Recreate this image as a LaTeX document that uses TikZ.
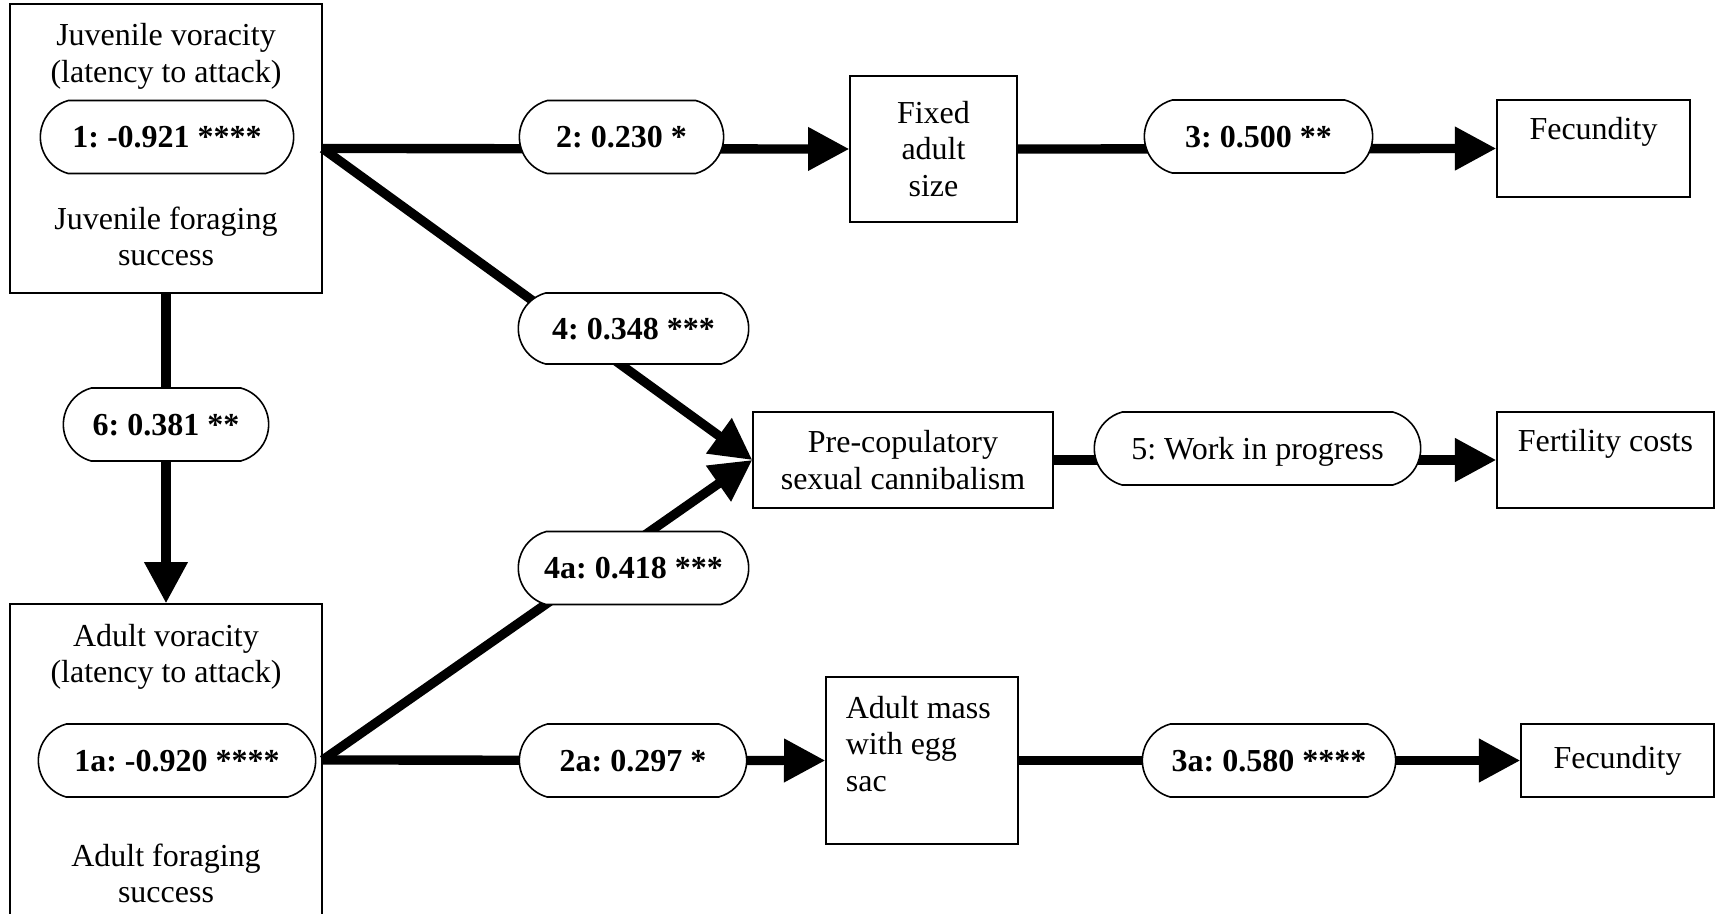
\documentclass[tikz,border=0pt]{standalone}
\usepackage{fontspec}
\setmainfont{Liberation Serif}
\usetikzlibrary{arrows.meta, shapes.misc}
\frenchspacing

\begin{document}
\begin{tikzpicture}[x=0.375pt, y=-0.375pt,
  every node/.style={font=\fontsize{12}{13.8}\selectfont},
  box/.style={draw, line width=0.5pt, align=center, inner sep=0pt},
  txt/.style={inner sep=0pt, anchor=base},
  coef/.style={draw, fill=white, line width=0.6pt, rounded rectangle, rounded rectangle arc length=150,
    minimum height=27.4pt, text height=8.1pt, text depth=0pt, inner xsep=2pt,
    font=\fontsize{12}{13.8}\selectfont\bfseries},
  link/.style={line width=3.5pt, -{Triangle[length=15.5pt, width=15.5pt]}}]

  \useasboundingbox (0,0) rectangle (1716,914);

  % boxes
  \node [box, minimum width=117pt, minimum height=108.4pt] (juv) at (166,148.5) {};
  \node [box, minimum width=117pt, minimum height=117pt] (adult) at (166,760) {};
  \node [box, minimum width=62.6pt, minimum height=54.75pt] (fixed) at (933.5,149) {Fixed\\adult\\size};
  \node [box, minimum width=72.4pt, minimum height=36.4pt,
    label={[anchor=north, yshift=-3.4pt]north:Fecundity}] (fec1) at (1593.5,148.5) {};
  \node [box, minimum width=112.5pt, minimum height=36pt] (pre) at (903,460) {Pre-copulatory\\sexual cannibalism};
  \node [box, minimum width=81.4pt, minimum height=36pt,
    label={[anchor=north, yshift=-3.1pt]north:Fertility costs}] (fert) at (1605.5,460) {};
  \node [box, minimum width=72pt, minimum height=62.6pt,
    label={[anchor=north west, align=left, inner sep=0pt, xshift=7.5pt, yshift=-7.1pt]north west:Adult mass\\with egg\\sac}] (mass) at (922,760.5) {};
  \node [box, minimum width=72.4pt, minimum height=27.4pt] (fec2) at (1617.5,760.5) {Fecundity};

  % box texts
  \node [txt] (juv_a) at (166,45) {Juvenile voracity};
  \node [txt] (juv_b) at (166,82) {(latency to attack)};
  \node [txt] (juv_c) at (166,229) {Juvenile foraging};
  \node [txt] (juv_d) at (166,265) {success};
  \node [txt] (adult_a) at (166,646) {Adult voracity};
  \node [txt] (adult_b) at (166,682) {(latency to attack)};
  \node [txt] (adult_c) at (166,866) {Adult foraging};
  \node [txt] (adult_d) at (166,902) {success};

  % edges
  \draw [link] (juv.east) -- (fixed.west);
  \draw [link] (fixed.east) -- (fec1.west);
  \draw [link] (juv.east) -- (pre.west);
  \draw [link] (adult.east) -- (pre.west);
  \draw [link] (pre.east) -- (fert.west);
  \draw [link] (juv.south) -- (adult.north);
  \draw [link] (adult.east) -- (mass.west);
  \draw [link] (mass.east) -- (fec2.west);

  % coefficients
  \node [coef, minimum width=99pt] (c1) at (167,137) {1: -0.921 ****};
  \node [coef, minimum width=80.6pt] (c2) at (621.5,137) {2: 0.230 *};
  \node [coef, minimum width=89.6pt] (c3) at (1258.5,136.5) {3: 0.500 **};
  \node [coef, minimum width=90.4pt, minimum height=26.6pt] (c4) at (633.5,328.5) {4: 0.348 ***};
  \node [coef, minimum width=90.4pt] (c4a) at (633.5,568) {4a: 0.418 ***};
  \node [coef, minimum width=81pt] (c6) at (166,424.5) {6: 0.381 **};
  \node [coef, minimum width=108pt] (c1a) at (177,760.5) {1a: -0.920 ****};
  \node [coef, minimum width=89.25pt] (c2a) at (633,760.5) {2a: 0.297 *};
  \node [coef, minimum width=99pt] (c3a) at (1269,760.5) {3a: 0.580 ****};
  \node [coef, minimum width=126.4pt, font=\fontsize{12}{13.8}\selectfont] (c5) at (1257.5,448.5) {5: Work in progress};
\end{tikzpicture}
\end{document}
